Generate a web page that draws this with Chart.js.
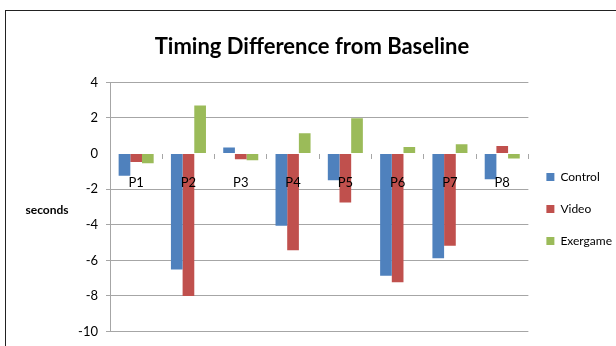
<!DOCTYPE html>
<html>
<head>
<meta charset="utf-8">
<script src="https://cdn.jsdelivr.net/npm/chart.js@4"></script>
<style>
  body { margin: 0; background: #fff; }
  #wrap { position: relative; width: 616px; height: 346px; overflow: hidden; }
  #frame { position: absolute; left: 5px; top: 10px; width: 700px; height: 400px;
           border-left: 1px solid #222; border-top: 1px solid #222; }
  #chart { position: absolute; left: 0; top: 0; }
</style>
</head>
<body>
<div id="wrap">
  <div id="frame"></div>
  <canvas id="chart" width="616" height="346"></canvas>
</div>
<script>
// participants and the three groups (seconds vs baseline)
const participants = ['P1', 'P2', 'P3', 'P4', 'P5', 'P6', 'P7', 'P8'];
const controlVals = [-1.25, -6.52, 0.34, -4.05, -1.5, -6.86, -5.88, -1.44];
const videoVals = [-0.47, -8.0, -0.32, -5.44, -2.75, -7.23, -5.18, 0.43];
const exergameVals = [-0.54, 2.7, -0.38, 1.14, 1.98, 0.37, 0.52, -0.28];
const seriesNames = ['Control', 'Video', 'Exergame'];
const seriesColors = ['#4F81BD', '#C0504D', '#9BBB59'];

const font = 'Lato, "Open Sans", sans-serif';

// horizontal "seconds" label left of the axis
const sideLabel = {
    id: 'sideLabel',
    afterDraw(chart) {
        const c = chart.ctx;
        const area = chart.chartArea;
        c.save();
        c.font = 'bold 12px ' + font;
        c.fillStyle = '#000';
        c.textAlign = 'center';
        c.textBaseline = 'middle';
        c.fillText('seconds', 47, (area.top + area.bottom) / 2 + 3);
        c.restore();
    }
};

// push the legend down so it sits beside the middle of the plot, like Excel
const legendNudge = {
    id: 'legendNudge',
    afterLayout(chart) {
        const lg = chart.legend;
        if (lg) {
            lg.top += 42;
            lg.bottom += 42;
            lg.left -= 2;
            lg.right -= 2;
        }
    }
};

const ctx = document.getElementById('chart').getContext('2d');
new Chart(ctx, {
    type: 'bar',
    data: {
        labels: participants,
        datasets: [controlVals, videoVals, exergameVals].map((vals, i) => ({
            label: seriesNames[i],
            data: vals,
            backgroundColor: seriesColors[i],
            borderWidth: 0,
            barPercentage: 1,
            categoryPercentage: 0.67
        }))
    },
    options: {
        responsive: false,
        animation: false,
        layout: { padding: { left: 0, right: -8, top: 0, bottom: 12 } },
        plugins: {
            title: {
                display: true,
                text: 'Timing Difference from Baseline',
                color: '#000',
                font: { family: font, size: 22, weight: 'bold' },
                padding: { top: 34, bottom: 22 }
            },
            legend: {
                position: 'right',
                labels: {
                    boxWidth: 8,
                    boxHeight: 8,
                    padding: 20,
                    color: '#000',
                    font: { family: font, size: 12 }
                }
            },
            tooltip: { enabled: false }
        },
        scales: {
            x: {
                position: { y: 0 },
                border: { display: false },
                grid: {
                    offset: true,
                    drawOnChartArea: false,
                    tickLength: 5,
                    color: '#a6a6a6'
                },
                ticks: {
                    z: 1,
                    color: '#000',
                    padding: 16,
                    font: { family: font, size: 13 }
                }
            },
            y: {
                min: -10,
                max: 4,
                afterFit: s => { s.width = 110; },
                border: { color: '#a6a6a6' },
                grid: {
                    color: c => c.tick && c.tick.value === 0 ? 'rgba(0,0,0,0)' : '#a6a6a6',
                    tickLength: 4
                },
                ticks: {
                    stepSize: 2,
                    color: '#000',
                    padding: 8,
                    font: { family: font, size: 13, lineHeight: 1 }
                }
            }
        }
    },
    plugins: [sideLabel, legendNudge]
});
</script>
</body>
</html>
